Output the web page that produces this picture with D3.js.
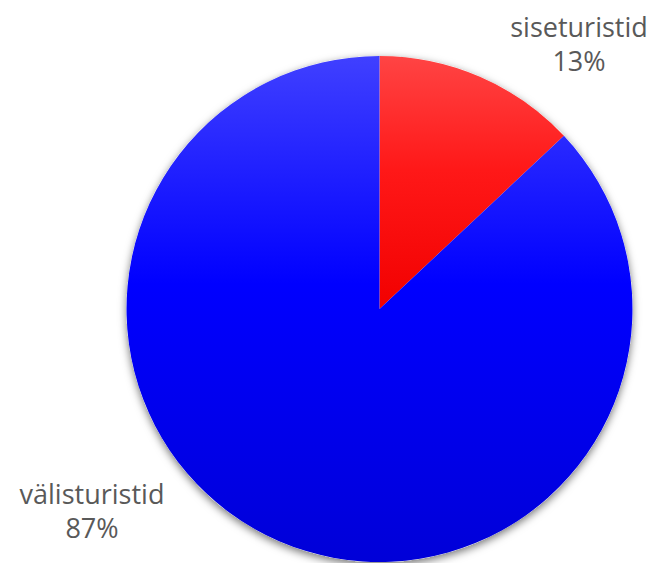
<!DOCTYPE html>
<html>
<head>
<meta charset="utf-8">
<script src="https://cdn.jsdelivr.net/npm/d3@7"></script>
<style>
  html, body { margin: 0; padding: 0; background: #fff; }
  svg { display: block; }
</style>
</head>
<body>
<div id="chart"></div>
<script>
// data
const categories = ["siseturistid", "välisturistid"]
const values = [13, 87]
const percentLabels = ["13%", "87%"]

const width = 657
const height = 563
const cx = 379.5
const cy = 309
const radius = 253

// gradient stops per slice (top -> bottom)
const sliceColors = [
  ["#ff4444", "#ff1818", "#f20000"],
  ["#4040ff", "#0000ff", "#0000d8"]
]
// label anchor (centre of text block), tuned to the reference
const labelPos = [
  { x: 579, y: 37 },
  { x: 92, y: 504 }
]

const svg = d3.select("#chart")
  .append("svg")
  .attr("width", width)
  .attr("height", height)

const defs = svg.append("defs")

const shadow = defs.append("filter")
  .attr("id", "shadow")
  .attr("x", "-20%").attr("y", "-20%")
  .attr("width", "140%").attr("height", "140%")
shadow.append("feDropShadow")
  .attr("dx", 0)
  .attr("dy", 3)
  .attr("stdDeviation", 4)
  .attr("flood-color", "#000")
  .attr("flood-opacity", 0.55)

sliceColors.forEach((stops, i) => {
  const g = defs.append("linearGradient")
    .attr("id", "grad" + i)
    .attr("x1", 0).attr("y1", 0)
    .attr("x2", 0).attr("y2", 1)
  g.append("stop").attr("offset", "0%").attr("stop-color", stops[0])
  g.append("stop").attr("offset", "45%").attr("stop-color", stops[1])
  g.append("stop").attr("offset", "100%").attr("stop-color", stops[2])
})

const pie = d3.pie().sort(null).value((d) => d)
const arc = d3.arc().innerRadius(0).outerRadius(radius)

const arcs = pie(values)

const pieGroup = svg.append("g")
  .attr("transform", `translate(${cx},${cy})`)

// shadow underlay
pieGroup.append("circle")
  .attr("r", radius)
  .attr("fill", "#fff")
  .attr("filter", "url(#shadow)")

pieGroup.selectAll("path")
  .data(arcs)
  .join("path")
  .attr("d", arc)
  .attr("fill", (d, i) => `url(#grad${i})`)

// labels
const labels = svg.append("g")
  .selectAll("text")
  .data(arcs)
  .join("text")
  .attr("text-anchor", "middle")
  .attr("font-family", "'Open Sans', Lato, sans-serif")
  .attr("font-size", "27px")
  .attr("fill", "#595959")

labels.append("tspan")
  .attr("x", (d, i) => labelPos[i].x)
  .attr("y", (d, i) => labelPos[i].y)
  .text((d, i) => categories[i])

labels.append("tspan")
  .attr("x", (d, i) => labelPos[i].x)
  .attr("y", (d, i) => labelPos[i].y + 34)
  .text((d, i) => percentLabels[i])
</script>
</body>
</html>
